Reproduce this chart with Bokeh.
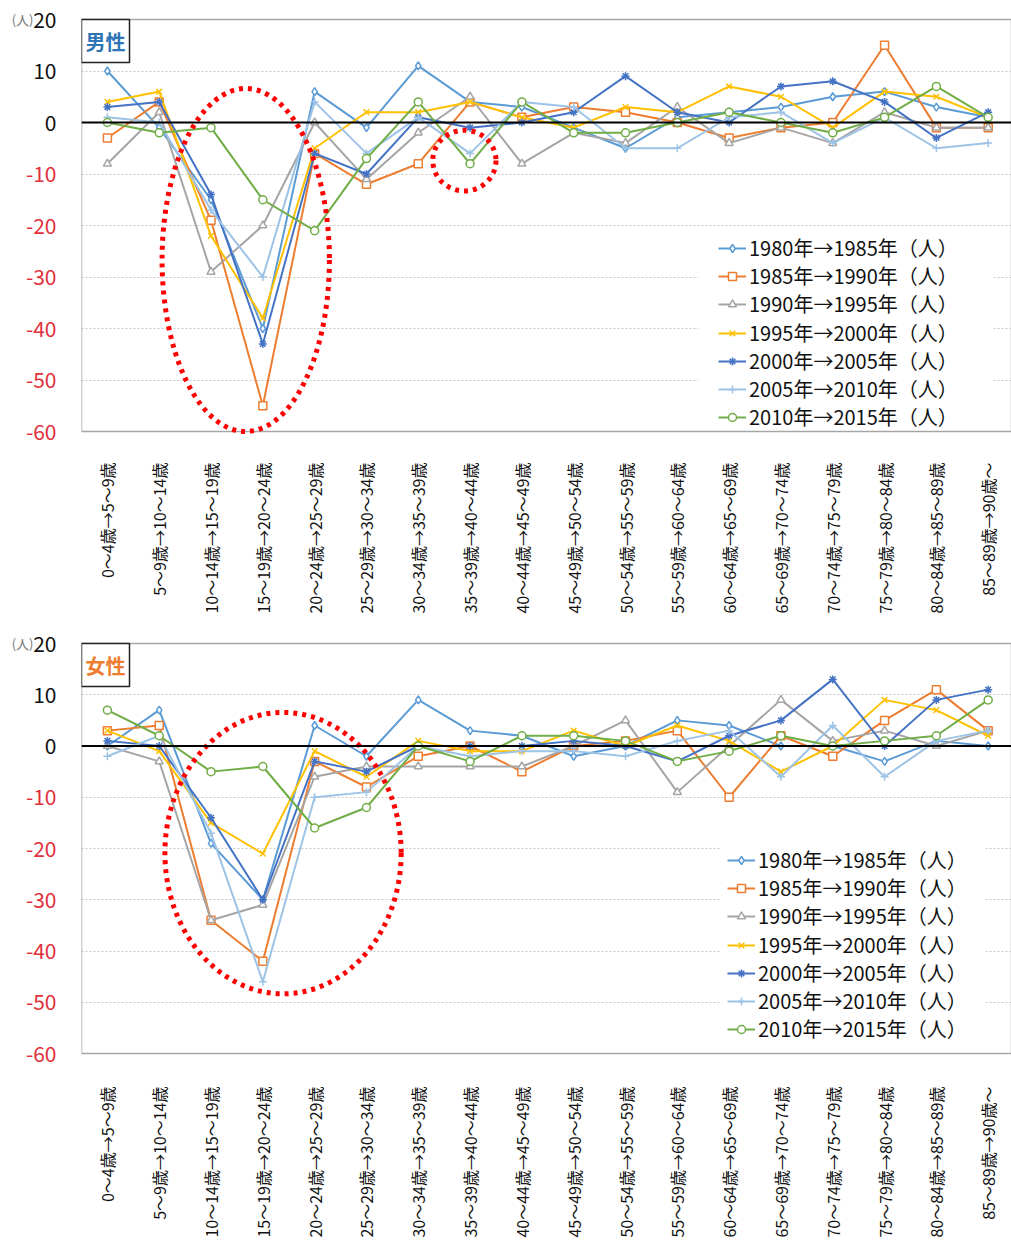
import numpy as np
from bokeh.plotting import figure
from bokeh.models import (ColumnDataSource, FixedTicker, Legend, LegendItem,
                          Label, Span)
from bokeh.layouts import column, row
from bokeh.embed import file_html
from bokeh.resources import INLINE
from bokeh.core.properties import value

FONT = "Noto Sans CJK JP"

categories = ["0～4歳→5～9歳", "5～9歳→10～14歳", "10～14歳→15～19歳",
              "15～19歳→20～24歳", "20～24歳→25～29歳", "25～29歳→30～34歳",
              "30～34歳→35～39歳", "35～39歳→40～44歳", "40～44歳→45～49歳",
              "45～49歳→50～54歳", "50～54歳→55～59歳", "55～59歳→60～64歳",
              "60～64歳→65～69歳", "65～69歳→70～74歳", "70～74歳→75～79歳",
              "75～79歳→80～84歳", "80～84歳→85～89歳", "85～89歳→90歳～"]

series_names = ["1980年→1985年（人）", "1985年→1990年（人）", "1990年→1995年（人）",
                "1995年→2000年（人）", "2000年→2005年（人）", "2005年→2010年（人）",
                "2010年→2015年（人）"]

# 男性
m1980 = [10, -1, -15, -40, 6, -1, 11, 4, 3, -1, -5, 1, 2, 3, 5, 6, 3, 1]
m1985 = [-3, 4, -19, -55, -6, -12, -8, 4, 1, 3, 2, 0, -3, -1, 0, 15, -1, -1]
m1990 = [-8, 2, -29, -20, 0, -11, -2, 5, -8, -2, -4, 3, -4, -1, -4, 2, -1, -1]
m1995 = [4, 6, -22, -38, -5, 2, 2, 4, 1, -1, 3, 2, 7, 5, -1, 6, 5, 1]
m2000 = [3, 4, -14, -43, -6, -10, 1, -1, 0, 2, 9, 2, 0, 7, 8, 4, -3, 2]
m2005 = [1, 0, -17, -30, 4, -6, 1, -6, 4, 3, -5, -5, 1, 2, -4, 1, -5, -4]
m2010 = [0, -2, -1, -15, -21, -7, 4, -8, 4, -2, -2, 0, 2, 0, -2, 1, 7, 1]

# 女性
f1980 = [0, 7, -19, -30, 4, -2, 9, 3, 2, -2, 0, 5, 4, 0, 0, -3, 1, 0]
f1985 = [3, 4, -34, -42, -3, -8, -2, 0, -5, 0, 1, 3, -10, 2, -2, 5, 11, 3]
f1990 = [0, -3, -34, -31, -6, -4, -4, -4, -4, 0, 5, -9, 0, 9, 1, 3, 0, 3]
f1995 = [3, -1, -15, -21, -1, -6, 1, -1, -1, 3, 0, 4, 1, -5, 0, 9, 7, 2]
f2000 = [1, 0, -14, -30, -3, -5, 0, 0, 0, 1, 0, -3, 2, 5, 13, 0, 9, 11]
f2005 = [-2, 2, -17, -46, -10, -9, 0, -2, -1, -1, -2, 1, 3, -6, 4, -6, 1, 3]
f2010 = [7, 2, -5, -4, -16, -12, 0, -3, 2, 2, 1, -3, -1, 2, 0, 1, 2, 9]

male = [m1980, m1985, m1990, m1995, m2000, m2005, m2010]
female = [f1980, f1985, f1990, f1995, f2000, f2005, f2010]

y_ticks = [20, 10, 0, -10, -20, -30, -40, -50, -60]
y_unit_label = "(人)"

colors = ["#5B9BD5", "#ED7D31", "#A5A5A5", "#FFC000", "#4472C4", "#9DC3E6", "#70AD47"]
markers = ["diamond", "square", "triangle", "x", "asterisk", "cross", "circle"]

Y0, Y1 = -60, 20
X0, X1 = -0.5, 17.45
SIDE_W = 81
MAIN_W = 930
ITEM_STEP = 28.3
EXT = 14          # px of frame kept free below the -60 line


def make_panel(title, title_color, data, top_pad, plot_h, row_h, standoff,
               legend_x, legend_last_center, legend_box, ellipses):
    sy = plot_h / (Y1 - Y0)
    sx = MAIN_W / (X1 - X0)
    frame_h = top_pad + plot_h + EXT
    y_range = (Y0 - EXT / sy, Y1 + top_pad / sy)

    # ---- main plot ----
    p = figure(title=None, frame_width=MAIN_W, frame_height=frame_h,
               x_range=(X0, X1), y_range=y_range,
               output_backend="svg", toolbar_location=None,
               min_border_left=0, min_border_right=0,
               min_border_top=0, min_border_bottom=0)
    p.background_fill_color = "white"
    p.border_fill_color = "white"
    p.outline_line_color = None

    p.yaxis.visible = False
    xs = list(range(len(categories)))
    p.xaxis.ticker = FixedTicker(ticks=xs)
    p.xaxis.major_label_overrides = {i: c for i, c in enumerate(categories)}
    p.xaxis.major_label_orientation = np.pi / 2
    p.xaxis.axis_line_color = None
    p.xaxis.major_tick_line_color = None
    p.xaxis.minor_tick_line_color = None
    p.xaxis.major_tick_out = 0
    p.xaxis.major_tick_in = 0
    p.xaxis.major_label_standoff = standoff
    p.xaxis.major_label_text_font = FONT
    p.xaxis.major_label_text_font_size = "16px"
    p.xaxis.major_label_text_color = "#111111"

    p.xgrid.visible = False
    p.ygrid.ticker = FixedTicker(ticks=y_ticks)
    p.ygrid.grid_line_color = "#C8C8C8"
    p.ygrid.grid_line_dash = "2 2"
    p.ygrid.grid_line_width = 1

    # white backdrop of the legend area (hides the gridlines there)
    bl, br, bt = legend_box
    p.quad(left=[X0 + bl / sx], right=[X0 + br / sx],
           bottom=[Y0], top=[Y0 + bt / sy],
           fill_color="white", line_color=None)
    # plot-area border
    p.quad(left=[X0], right=[X1], bottom=[Y0], top=[Y1],
           fill_color=None, line_color="#A6A6A6", line_width=1.5)

    p.add_layout(Span(location=0, dimension="width", line_color="black",
                      line_width=2))

    renderers = []
    for vals, c, m in zip(data, colors, markers):
        rl = p.line(xs, vals, line_color=c, line_width=2)
        rs = p.scatter(xs, vals, marker=m, size=8, line_color=c,
                       fill_color="white", line_width=1.5)
        renderers.append((rl, rs))

    for (cx, cy, w, h) in ellipses:
        p.ellipse(x=[cx], y=[cy], width=[w], height=[h], fill_color=None,
                  line_color="#FF0000", line_width=5, line_dash="4 5")

    # title box (男性 / 女性)
    bw, bh = 48, 43
    p.quad(left=[X0], right=[X0 + bw / sx], bottom=[Y1 - bh / sy], top=[Y1],
           fill_color="white", line_color="#222222", line_width=1.5)
    p.add_layout(Label(x=X0 + bw / sx / 2, y=Y1 - bh / sy / 2, text=title,
                       text_align="center", text_baseline="middle",
                       text_font=FONT, text_font_size="20px",
                       text_font_style="bold", text_color=title_color))

    # one legend per entry, so that the rows keep the reference spacing
    n = len(series_names)
    for i, (name, (rl, rs)) in enumerate(zip(series_names, renderers)):
        center = EXT + legend_last_center + (n - 1 - i) * ITEM_STEP
        lg = Legend(items=[LegendItem(label=name, renderers=[rl, rs])],
                    location=(legend_x, round(center - 14.5)),
                    label_text_font=FONT, label_text_font_size="20px",
                    label_text_color="#111111", label_height=26,
                    glyph_height=20, glyph_width=28, spacing=0, padding=0,
                    margin=0, label_standoff=3, border_line_color=None,
                    background_fill_alpha=0.0)
        p.add_layout(lg)

    # ---- side panel carrying the y tick labels ----
    s = figure(title=None, frame_width=SIDE_W, frame_height=frame_h,
               x_range=(0, SIDE_W), y_range=y_range,
               output_backend="svg", toolbar_location=None,
               min_border_left=0, min_border_right=0, min_border_top=0,
               min_border_bottom=row_h - frame_h)
    s.axis.visible = False
    s.grid.visible = False
    s.outline_line_color = None
    s.background_fill_color = "white"
    s.border_fill_color = "white"
    src = ColumnDataSource(dict(
        x=[SIDE_W - 25] * len(y_ticks), y=y_ticks,
        text=[str(t) for t in y_ticks],
        color=["#111111" if t >= 0 else "#E0303C" for t in y_ticks]))
    s.text(x="x", y="y", text="text", source=src, text_color="color",
           text_align="right", text_baseline="middle",
           text_font=value(FONT), text_font_size="21px")
    s.text(x=[SIDE_W - 48], y=[Y1], text=[y_unit_label], text_align="right",
           text_baseline="middle", text_font=value(FONT),
           text_font_size="13px", text_color="#777777")
    return row(s, p, spacing=0)


top = make_panel("男性", "#2E75B6", male, 19, 412, 626, 31 - EXT,
                 637, 14, (617, 912, 198),
                 [(2.67, -26.7, 3.23, 66.6), (6.89, -7.4, 1.22, 11.8)])
bottom = make_panel("女性", "#ED7D31", female, 17, 410, 590, 33 - EXT,
                    646, 24, (639, 904, 212),
                    [(3.39, -20.9, 4.56, 54.9)])

layout = column(top, bottom, spacing=0)
open("out.html", "w").write(file_html(layout, INLINE))
